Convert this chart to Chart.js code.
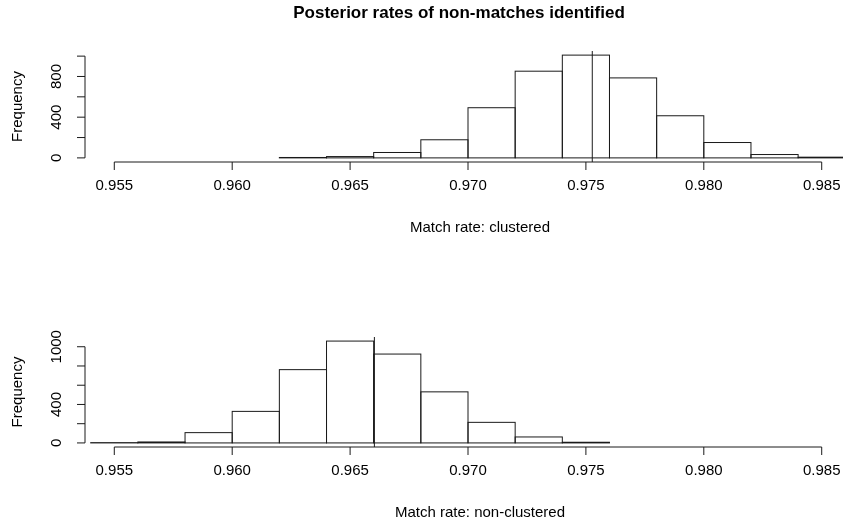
<!DOCTYPE html>
<html>
<head>
<meta charset="utf-8">
<title>Posterior rates of non-matches identified</title>
<script src="https://cdn.jsdelivr.net/npm/chart.js@4.4.0/dist/chart.umd.min.js"></script>
<style>
    html, body { margin: 0; padding: 0; background: #fff; width: 843px; height: 527px; overflow: hidden; }
    .panel { position: absolute; left: 0; top: 0; width: 900px; height: 527px; }
</style>
</head>
<body>
<canvas id="topChart" class="panel" width="900" height="527"></canvas>
<canvas id="bottomChart" class="panel" width="900" height="527"></canvas>
<script>
// ── Data ───────────────────────────────────
const binWidth = 0.002;

const clusteredBinStarts = [0.962, 0.964, 0.966, 0.968, 0.970, 0.972, 0.974, 0.976, 0.978, 0.980, 0.982, 0.984];
const clusteredCounts    = [4, 13, 53, 178, 493, 852, 1010, 786, 414, 151, 33, 7];
const clusteredMean      = 0.97527;

const nonClusteredBinStarts = [0.954, 0.956, 0.958, 0.960, 0.962, 0.964, 0.966, 0.968, 0.970, 0.972, 0.974];
const nonClusteredCounts    = [3, 10, 107, 328, 762, 1059, 924, 531, 214, 62, 7];
const nonClusteredMean      = 0.96603;

const xLimits     = [0.955, 0.985];
const xTicks      = [0.955, 0.960, 0.965, 0.970, 0.975, 0.980, 0.985];
const xTickLabels = ['0.955', '0.960', '0.965', '0.970', '0.975', '0.980', '0.985'];
const yTicks        = [0, 200, 400, 600, 800, 1000];
const topYLabels    = ['0', '', '400', '', '800', ''];
const bottomYLabels = ['0', '', '400', '', '', '1000'];

const FONT = '"Liberation Sans", Arial, Helvetica, sans-serif';
const INK  = '#1a1a1a';

// ── R-style base graphics plugin ───────────
const rStyle = {
    id: 'rStyle',
    afterDatasetsDraw(chart, args, opts) {
        const { ctx, chartArea: area, scales: { x, y } } = chart;

        // bar outlines (clipped to plot region like R)
        ctx.save();
        ctx.beginPath();
        ctx.rect(area.left, area.top - 1, area.right - area.left, area.bottom - area.top + 2);
        ctx.clip();
        ctx.strokeStyle = INK;
        ctx.lineWidth = 1;
        chart.getDatasetMeta(0).data.forEach(bar => {
            const p = bar.getProps(['x', 'y', 'base', 'width'], true);
            ctx.strokeRect(p.x - p.width / 2, p.y, p.width, p.base - p.y);
        });

        // mean line
        const mx = x.getPixelForValue(opts.mean);
        ctx.beginPath();
        ctx.moveTo(mx, area.top);
        ctx.lineTo(mx, area.bottom);
        ctx.stroke();
        ctx.restore();

        ctx.save();
        ctx.strokeStyle = INK;
        ctx.fillStyle = '#000';
        ctx.lineWidth = 1;

        // x axis
        const ay = area.bottom;
        ctx.beginPath();
        ctx.moveTo(x.getPixelForValue(xTicks[0]), ay);
        ctx.lineTo(x.getPixelForValue(xTicks[xTicks.length - 1]), ay);
        xTicks.forEach(v => {
            const px = x.getPixelForValue(v);
            ctx.moveTo(px, ay);
            ctx.lineTo(px, ay + 8);
        });
        ctx.stroke();
        ctx.font = '15px ' + FONT;
        ctx.textAlign = 'center';
        ctx.textBaseline = 'middle';
        xTicks.forEach((v, i) => ctx.fillText(xTickLabels[i], x.getPixelForValue(v), ay + 24));

        // y axis
        const ax = area.left - 1;
        ctx.beginPath();
        ctx.moveTo(ax, y.getPixelForValue(yTicks[0]));
        ctx.lineTo(ax, y.getPixelForValue(yTicks[yTicks.length - 1]));
        yTicks.forEach(v => {
            const py = y.getPixelForValue(v);
            ctx.moveTo(ax, py);
            ctx.lineTo(ax - 8, py);
        });
        ctx.stroke();
        opts.yLabels.forEach((lab, i) => {
            if (!lab) return;
            ctx.save();
            ctx.translate(ax - 28, y.getPixelForValue(yTicks[i]));
            ctx.rotate(-Math.PI / 2);
            ctx.fillText(lab, 0, 0);
            ctx.restore();
        });

        // axis titles
        ctx.save();
        ctx.translate(18, (area.top + area.bottom) / 2);
        ctx.rotate(-Math.PI / 2);
        ctx.fillText('Frequency', 0, 0);
        ctx.restore();
        ctx.fillText(opts.xTitle, 480, ay + 66);

        if (opts.title) {
            ctx.font = 'bold 17px ' + FONT;
            ctx.fillText(opts.title, 459, 13);
        }
        ctx.restore();
    }
};

// ── Chart factory ──────────────────────────
function makeHist(canvasId, binStarts, counts, padding, pluginOpts) {
    const maxCount = Math.max(...counts);
    const xPad = (xLimits[1] - xLimits[0]) * 0.04;
    return new Chart(document.getElementById(canvasId), {
        type: 'bar',
        data: {
            datasets: [{
                data: binStarts.map((b, i) => ({ x: b + binWidth / 2, y: counts[i] })),
                backgroundColor: '#ffffff',
                borderWidth: 0,
                barPercentage: 1,
                categoryPercentage: 1
            }]
        },
        options: {
            responsive: false,
            animation: false,
            devicePixelRatio: 1,
            events: [],
            layout: { padding },
            plugins: { legend: { display: false }, tooltip: { enabled: false }, rStyle: pluginOpts },
            scales: {
                x: {
                    type: 'linear', display: false, offset: false,
                    min: xLimits[0] - xPad, max: xLimits[1] + xPad,
                    ticks: { stepSize: 0.005, includeBounds: false }
                },
                y: {
                    display: false,
                    min: -maxCount * 0.04, max: maxCount * 1.04
                }
            }
        },
        plugins: [rStyle]
    });
}

makeHist('topChart', clusteredBinStarts, clusteredCounts,
    { left: 86, right: 50, top: 51, bottom: 527 - 162 },
    { mean: clusteredMean, yLabels: topYLabels, xTitle: 'Match rate: clustered',
      title: 'Posterior rates of non-matches identified' });

makeHist('bottomChart', nonClusteredBinStarts, nonClusteredCounts,
    { left: 86, right: 50, top: 337, bottom: 527 - 447 },
    { mean: nonClusteredMean, yLabels: bottomYLabels, xTitle: 'Match rate: non-clustered' });
</script>
</body>
</html>
